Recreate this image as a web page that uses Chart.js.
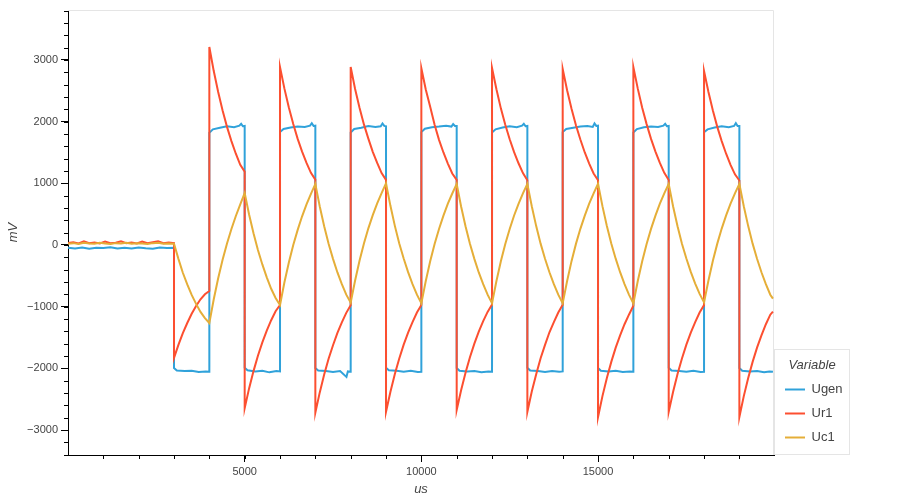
<!DOCTYPE html>
<html>
<head>
<meta charset="utf-8">
<title>Ugen / Ur1 / Uc1</title>
<script src="https://cdn.jsdelivr.net/npm/chart.js@4.4.1/dist/chart.umd.min.js"></script>
<style>
    html, body { margin: 0; padding: 0; background: #fff; }
    #wrap { width: 900px; height: 500px; }
</style>
</head>
<body>
<div id="wrap"><canvas id="signalChart" width="900" height="500"></canvas></div>
<script>
// tick labels
const xTicks = [5000, 10000, 15000];
const yTicks = [-3000, -2000, -1000, 0, 1000, 2000, 3000];
const seriesNames = ['Ugen', 'Ur1', 'Uc1'];

// [time in us, value in mV]
const ugenData = [
    [0,-45],[200,-55],[400,-40],[600,-60],[800,-45],[1000,-50],[1200,-38],[1400,-58],[1600,-45],[1800,-55],[2000,-40],[2200,-52],[2400,-60],[2600,-42],[2800,-50],[3000,-45],
    [3000,-1995],[3080,-2035],[3300,-2045],[3500,-2040],[3700,-2060],[3900,-2050],[4000,-2055],
    [4000,1820],[4100,1875],[4300,1900],[4500,1925],[4700,1910],[4850,1935],[4900,1965],[4950,1925],[5000,1930],
    [5000,-1990],[5080,-2030],[5300,-2050],[5500,-2040],[5700,-2065],[5900,-2045],[6000,-2050],
    [6000,1830],[6100,1880],[6300,1905],[6500,1920],[6700,1915],[6850,1935],[6900,1975],[6950,1930],[7000,1935],
    [7000,-1995],[7080,-2035],[7300,-2045],[7500,-2060],[7700,-2045],[7880,-2140],[7920,-2050],[8000,-2055],
    [8000,1825],[8100,1880],[8300,1900],[8500,1930],[8700,1915],[8850,1925],[8900,1970],[8950,1930],[9000,1925],
    [9000,-1990],[9080,-2030],[9300,-2040],[9500,-2055],[9700,-2040],[9900,-2060],[10000,-2055],
    [10000,1830],[10100,1885],[10300,1910],[10500,1920],[10700,1935],[10850,1920],[10900,1960],[10950,1930],[11000,1930],
    [11000,-1995],[11080,-2040],[11300,-2050],[11500,-2045],[11700,-2065],[11900,-2050],[12000,-2055],
    [12000,1825],[12100,1875],[12300,1905],[12500,1925],[12700,1910],[12850,1935],[12900,1965],[12950,1925],[13000,1930],
    [13000,-1990],[13080,-2035],[13300,-2045],[13500,-2060],[13700,-2045],[13900,-2055],[14000,-2050],
    [14000,1830],[14100,1880],[14300,1900],[14500,1920],[14700,1930],[14850,1915],[14900,1970],[14950,1930],[15000,1935],
    [15000,-1995],[15080,-2040],[15300,-2050],[15500,-2040],[15700,-2060],[15900,-2050],[16000,-2055],
    [16000,1825],[16100,1880],[16300,1910],[16500,1920],[16700,1915],[16850,1935],[16900,1965],[16950,1925],[17000,1930],
    [17000,-1990],[17080,-2035],[17300,-2045],[17500,-2055],[17700,-2040],[17900,-2060],[18000,-2055],
    [18000,1830],[18100,1875],[18300,1905],[18500,1925],[18700,1910],[18850,1930],[18900,1975],[18950,1930],[19000,1930],
    [19000,-1995],[19080,-2040],[19300,-2050],[19500,-2045],[19700,-2065],[19850,-2050],[19950,-2055]
];

const ur1Data = [
    [0,30],[150,45],[300,25],[450,60],[600,30],[750,40],[900,25],[1050,55],[1200,30],[1350,35],[1500,60],[1650,30],[1800,40],[1950,25],[2100,55],[2250,30],[2400,45],[2550,60],[2700,30],[2850,40],[3000,30],
    [3000,-1830],[3125,-1620],[3250,-1430],[3375,-1265],[3500,-1115],[3625,-990],[3750,-880],[3875,-800],[4000,-745],
    [4000,3210],[4125,2820],[4250,2480],[4375,2180],[4500,1915],[4625,1685],[4750,1480],[4875,1300],[5000,1190],
    [5000,-2645],[5125,-2325],[5250,-2045],[5375,-1795],[5500,-1580],[5625,-1390],[5750,-1220],[5875,-1075],[6000,-973],
    [6000,2885],[6125,2535],[6250,2230],[6375,1960],[6500,1720],[6625,1515],[6750,1330],[6875,1170],[7000,1060],
    [7000,-2720],[7125,-2390],[7250,-2100],[7375,-1845],[7500,-1625],[7625,-1425],[7750,-1255],[7875,-1100],[8000,-975],
    [8000,2885],[8125,2530],[8250,2225],[8375,1955],[8500,1725],[8625,1510],[8750,1330],[8875,1165],[9000,1055],
    [9000,-2705],[9125,-2380],[9250,-2090],[9375,-1840],[9500,-1615],[9625,-1420],[9750,-1250],[9875,-1095],[10000,-973],
    [10000,2865],[10125,2520],[10250,2240],[10375,1950],[10500,1705],[10625,1500],[10750,1320],[10875,1160],[11000,1055],
    [11000,-2675],[11125,-2355],[11250,-2070],[11375,-1820],[11500,-1600],[11625,-1405],[11750,-1235],[11875,-1085],[12000,-965],
    [12000,2870],[12125,2525],[12250,2215],[12375,1950],[12500,1715],[12625,1505],[12750,1325],[12875,1165],[13000,1050],
    [13000,-2705],[13125,-2375],[13250,-2095],[13375,-1835],[13500,-1620],[13625,-1415],[13750,-1250],[13875,-1095],[14000,-970],
    [14000,2855],[14125,2510],[14250,2210],[14375,1940],[14500,1710],[14625,1500],[14750,1320],[14875,1160],[15000,1050],
    [15000,-2790],[15125,-2450],[15250,-2155],[15375,-1895],[15500,-1665],[15625,-1465],[15750,-1285],[15875,-1130],[16000,-985],
    [16000,2885],[16125,2535],[16250,2225],[16375,1960],[16500,1720],[16625,1515],[16750,1330],[16875,1170],[17000,1055],
    [17000,-2705],[17125,-2380],[17250,-2090],[17375,-1840],[17500,-1615],[17625,-1420],[17750,-1250],[17875,-1095],[18000,-975],
    [18000,2820],[18125,2480],[18250,2180],[18375,1915],[18500,1685],[18625,1480],[18750,1300],[18875,1145],[19000,1045],
    [19000,-2790],[19125,-2450],[19250,-2155],[19375,-1895],[19500,-1665],[19625,-1465],[19750,-1285],[19875,-1130],[19950,-1080]
];

const uc1Data = [
    [0,20],[150,30],[300,15],[450,35],[600,25],[750,20],[900,35],[1050,25],[1200,15],[1350,30],[1500,25],[1650,35],[1800,20],[1950,30],[2100,25],[2250,15],[2400,30],[2550,35],[2700,20],[2850,25],[3000,20],
    [3125,-225],[3250,-450],[3375,-640],[3500,-810],[3625,-955],[3750,-1085],[3875,-1185],[4000,-1265],
    [4125,-880],[4250,-540],[4375,-240],[4500,25],[4625,260],[4750,470],[4875,660],[5000,843],
    [5125,495],[5250,190],[5375,-80],[5500,-315],[5625,-525],[5750,-710],[5875,-860],[6000,-973],
    [6125,-605],[6250,-285],[6375,0],[6500,245],[6625,465],[6750,660],[6875,830],[7000,990],
    [7125,625],[7250,305],[7375,20],[7500,-225],[7625,-445],[7750,-635],[7875,-805],[8000,-935],
    [8125,-575],[8250,-255],[8375,25],[8500,270],[8625,485],[8750,675],[8875,840],[9000,1000],
    [9125,635],[9250,310],[9375,25],[9500,-220],[9625,-440],[9750,-635],[9875,-805],[10000,-946],
    [10125,-585],[10250,-265],[10375,15],[10500,260],[10625,475],[10750,670],[10875,835],[11000,990],
    [11125,625],[11250,305],[11375,20],[11500,-225],[11625,-445],[11750,-635],[11875,-805],[12000,-946],
    [12125,-585],[12250,-265],[12375,15],[12500,260],[12625,478],[12750,668],[12875,838],[13000,990],
    [13125,628],[13250,306],[13375,22],[13500,-224],[13625,-442],[13750,-636],[13875,-806],[14000,-946],
    [14125,-585],[14250,-262],[14375,18],[14500,262],[14625,476],[14750,670],[14875,836],[15000,992],
    [15125,630],[15250,308],[15375,24],[15500,-222],[15625,-441],[15750,-634],[15875,-804],[16000,-946],
    [16125,-584],[16250,-264],[16375,16],[16500,261],[16625,477],[16750,669],[16875,837],[17000,990],
    [17125,625],[17250,304],[17375,21],[17500,-220],[17625,-436],[17750,-626],[17875,-792],[18000,-930],
    [18125,-575],[18250,-256],[18375,22],[18500,266],[18625,480],[18750,672],[18875,838],[19000,990],
    [19125,628],[19250,306],[19375,22],[19500,-224],[19625,-442],[19750,-636],[19875,-806],[19950,-870]
];

const toPoints = arr => arr.map(([x, y]) => ({ x, y }));
const fmt = v => (v < 0 ? '\u2212' + Math.abs(v) : String(v));

// frame on top/right, minor ticks, legend box outline
const decor = {
    id: 'decor',
    beforeDatasetsDraw(chart) {
        const { ctx, chartArea: a, scales: { x, y } } = chart;
        ctx.save();
        ctx.strokeStyle = '#e5e5e5';
        ctx.lineWidth = 1;
        ctx.beginPath();
        ctx.moveTo(a.left, a.top + 0.5);
        ctx.lineTo(a.right - 0.5, a.top + 0.5);
        ctx.lineTo(a.right - 0.5, a.bottom);
        ctx.stroke();

        ctx.strokeStyle = '#000';
        ctx.beginPath();
        for (let v = 1000; v < x.max; v += 1000) {
            const px = Math.round(x.getPixelForValue(v)) + 0.5;
            ctx.moveTo(px, a.bottom);
            ctx.lineTo(px, a.bottom + 4);
        }
        for (let v = -3400; v <= y.max; v += 200) {
            const py = Math.round(y.getPixelForValue(v)) + 0.5;
            ctx.moveTo(a.left - 4, py);
            ctx.lineTo(a.left, py);
        }
        ctx.stroke();
        ctx.restore();
    },
    afterDraw(chart) {
        const lg = chart.legend;
        if (!lg || !lg.columnSizes) return;
        const { ctx } = chart;
        const top = lg.bottom - lg.columnSizes[0].height - 11 - 13 - 10;
        ctx.save();
        ctx.strokeStyle = '#e5e5e5';
        ctx.lineWidth = 1;
        ctx.strokeRect(Math.round(lg.left) + 0.5, Math.round(top) + 0.5,
            Math.round(lg.width) - 1, Math.round(lg.bottom - top) - 1);
        ctx.restore();
    }
};

document.addEventListener('DOMContentLoaded', () => {
    Chart.defaults.font.family = "'Liberation Sans', Arial, sans-serif";
    const ctx = document.getElementById('signalChart').getContext('2d');

    const line = (label, data, color, order) => ({
        label,
        data: toPoints(data),
        borderColor: color,
        backgroundColor: color,
        borderWidth: 2,
        pointRadius: 0,
        tension: 0,
        fill: false,
        order
    });

    new Chart(ctx, {
        type: 'line',
        data: {
            datasets: [
                line(seriesNames[0], ugenData, '#30a2da', 3),
                line(seriesNames[1], ur1Data, '#fc4f30', 2),
                line(seriesNames[2], uc1Data, '#e5ae38', 1)
            ]
        },
        options: {
            responsive: false,
            animation: false,
            events: [],
            layout: { padding: { top: 10, right: 50, bottom: 0, left: 0 } },
            plugins: {
                tooltip: { enabled: false },
                legend: {
                    position: 'right',
                    align: 'end',
                    fullSize: false,
                    maxWidth: 76,
                    title: {
                        display: true,
                        text: 'Variable',
                        position: 'center',
                        color: '#444',
                        padding: 0,
                        font: { size: 13, style: 'italic', lineHeight: 1 }
                    },
                    labels: {
                        usePointStyle: true,
                        pointStyle: 'line',
                        pointStyleWidth: 20,
                        padding: 11,
                        color: '#444',
                        font: { size: 13 },
                        sort: (a, b) => a.datasetIndex - b.datasetIndex
                    }
                }
            },
            scales: {
                x: {
                    type: 'linear',
                    min: 0,
                    max: 19980,
                    afterBuildTicks: s => { s.ticks = xTicks.map(v => ({ value: v })); },
                    afterFit: s => { s.height = 45; },
                    ticks: { autoSkip: false, maxRotation: 0, padding: 3, color: '#444', font: { size: 11 }, callback: fmt },
                    grid: { drawOnChartArea: false, tickLength: 7, tickColor: '#000' },
                    border: { color: '#000', width: 1 },
                    title: { display: true, text: 'us', color: '#444', font: { size: 13, style: 'italic' }, padding: { top: 0, bottom: 3 } }
                },
                y: {
                    type: 'linear',
                    min: -3405,
                    max: 3810,
                    afterBuildTicks: s => { s.ticks = yTicks.map(v => ({ value: v })); },
                    afterFit: s => { s.width = 68; },
                    ticks: { autoSkip: false, padding: 3, color: '#444', font: { size: 11 }, callback: fmt },
                    grid: { drawOnChartArea: false, tickLength: 7, tickColor: '#000' },
                    border: { color: '#000', width: 1 },
                    title: { display: true, text: 'mV', color: '#444', font: { size: 13, style: 'italic' }, padding: { top: 6, bottom: 0 } }
                }
            }
        },
        plugins: [decor]
    });
});
</script>
</body>
</html>
